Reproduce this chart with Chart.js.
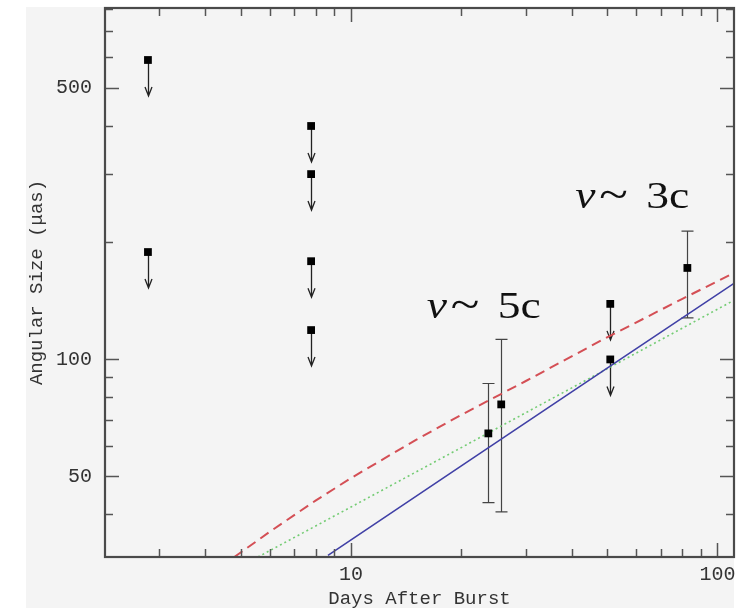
<!DOCTYPE html>
<html>
<head>
<meta charset="utf-8">
<script src="https://cdn.jsdelivr.net/npm/chart.js@4.4.0/dist/chart.umd.min.js"></script>
<style>
  html, body { margin: 0; padding: 0; background: #fff; }
  #chart { display: block; }
</style>
</head>
<body>
<canvas id="chart" width="753" height="608"></canvas>
<script>
// upper limits (square + arrow down)
const limitDays  = [2.79, 2.79, 7.78, 7.78, 7.78, 7.78, 51, 51];
const limitSizes = [590, 189, 399, 300, 179, 119, 139, 100];

// measured sizes with error bars
const detDays  = [23.7, 25.7, 82.8];
const detSizes = [64.5, 76.6, 172];
const detLow   = [42.8, 40.5, 128];
const detHigh  = [86.7, 112.6, 214];

// model curves
const redDays    = [4.8, 6, 8, 10, 15, 20, 30, 50, 80, 111];
const redSizes   = [31, 36, 43.3, 49.5, 62, 72, 88, 114, 143, 167];
const greenDays  = [5.57, 10, 20, 50, 111];
const greenSizes = [31, 41.7, 59.3, 94.6, 142];
const blueDays   = [8.65, 20, 54.3, 111];
const blueSizes  = [31.3, 53.2, 100, 157];

// axis ticks
const xMajor = [10, 100];
const xMinor = [3, 4, 5, 6, 7, 8, 9, 20, 30, 40, 50, 60, 70, 80, 90];
const yMajor = [50, 100, 500];
const yMinor = [40, 60, 70, 80, 90, 200, 300, 400, 600, 700, 800];

// speed notes
const noteText  = ['5c', '3c'];
const noteDays  = [16.1, 40.9];
const noteSizes = [128, 246];

const pts = (xs, ys) => xs.map((x, i) => ({ x: x, y: ys[i] }));

const marks = {
  id: 'marks',
  beforeDraw(chart) {
    const ctx = chart.ctx;
    ctx.save();
    ctx.fillStyle = '#ffffff';
    ctx.fillRect(0, 0, chart.width, chart.height);
    ctx.fillStyle = '#f4f4f4';
    ctx.fillRect(26, 7, 708, 601);
    ctx.restore();
  },
  beforeDatasetsDraw(chart) {
    const { ctx, scales: { x, y } } = chart;
    ctx.save();
    // error bars
    ctx.strokeStyle = '#444';
    ctx.lineWidth = 1.2;
    detDays.forEach((d, i) => {
      const px = Math.round(x.getPixelForValue(d)) + 0.5;
      const top = y.getPixelForValue(detHigh[i]);
      const bot = y.getPixelForValue(detLow[i]);
      ctx.beginPath();
      ctx.moveTo(px, top); ctx.lineTo(px, bot);
      ctx.moveTo(px - 6, top); ctx.lineTo(px + 6, top);
      ctx.moveTo(px - 6, bot); ctx.lineTo(px + 6, bot);
      ctx.stroke();
    });
    // arrows for limits
    ctx.strokeStyle = '#222';
    ctx.lineWidth = 1.3;
    limitDays.forEach((d, i) => {
      const px = Math.round(x.getPixelForValue(d)) + 0.5;
      const py = y.getPixelForValue(limitSizes[i]);
      const tip = py + 36;
      ctx.beginPath();
      ctx.moveTo(px, py); ctx.lineTo(px, tip);
      ctx.moveTo(px - 3.5, tip - 9); ctx.lineTo(px, tip); ctx.lineTo(px + 3.5, tip - 9);
      ctx.stroke();
    });
    ctx.restore();
  },
  afterDatasetsDraw(chart) {
    const { ctx, chartArea: a, scales: { x, y } } = chart;
    ctx.save();
    ctx.strokeStyle = '#555';
    ctx.lineWidth = 1.5;
    ctx.beginPath();
    const tick = (vals, len) => {
      vals.forEach(v => {
        const px = Math.round(x.getPixelForValue(v)) + 0.5;
        ctx.moveTo(px, a.bottom); ctx.lineTo(px, a.bottom - len);
        ctx.moveTo(px, a.top); ctx.lineTo(px, a.top + len);
      });
    };
    const ytick = (vals, len) => {
      vals.forEach(v => {
        const py = Math.round(y.getPixelForValue(v)) + 0.5;
        ctx.moveTo(a.left, py); ctx.lineTo(a.left + len, py);
        ctx.moveTo(a.right, py); ctx.lineTo(a.right - len, py);
      });
    };
    tick(xMajor, 14); tick(xMinor, 8);
    ytick(yMajor, 14); ytick(yMinor, 8);
    ctx.stroke();
    // frame
    ctx.strokeStyle = '#4a4a4a';
    ctx.lineWidth = 2.2;
    ctx.strokeRect(a.left, a.top, a.right - a.left, a.bottom - a.top);
    ctx.restore();
  },
  afterDraw(chart) {
    const { ctx, scales: { x, y } } = chart;
    ctx.fillStyle = '#111';
    ctx.textBaseline = 'alphabetic';
    noteText.forEach((t, i) => {
      const px = x.getPixelForValue(noteDays[i]);
      const py = y.getPixelForValue(noteSizes[i]);
      ctx.save();
      ctx.translate(px, py);
      ctx.scale(1.2, 1);
      ctx.font = 'italic 38px "Liberation Serif"';
      ctx.fillText('v', 0, 0);
      ctx.font = '44px "Liberation Serif"';
      ctx.fillText('~', 24 / 1.2, 1);
      ctx.font = '38px "Liberation Serif"';
      ctx.fillText(t, 71 / 1.2, 0);
      ctx.restore();
    });
  }
};

const ctx = document.getElementById('chart').getContext('2d');

// drop the label-overflow padding so the plot box fills the frame
const noPad = s => { s.paddingTop = 0; s.paddingBottom = 0; s.paddingLeft = 0; s.paddingRight = 0; };

new Chart(ctx, {
  type: 'scatter',
  data: {
    datasets: [
      {
        label: 'limits',
        data: pts(limitDays, limitSizes),
        pointStyle: 'rect',
        pointRadius: 5.5,
        backgroundColor: '#000',
        borderColor: '#000',
        borderWidth: 0
      },
      {
        label: 'detections',
        data: pts(detDays, detSizes),
        pointStyle: 'rect',
        pointRadius: 5.5,
        backgroundColor: '#000',
        borderColor: '#000',
        borderWidth: 0
      },
      {
        label: 'blue',
        type: 'line',
        data: pts(blueDays, blueSizes),
        borderColor: '#4040a6',
        borderWidth: 1.6,
        pointRadius: 0,
        fill: false
      },
      {
        label: 'green',
        type: 'line',
        data: pts(greenDays, greenSizes),
        borderColor: '#74cc74',
        borderWidth: 1.6,
        borderDash: [2, 3],
        pointRadius: 0,
        fill: false
      },
      {
        label: 'red',
        type: 'line',
        data: pts(redDays, redSizes),
        borderColor: '#d44f55',
        borderWidth: 2,
        borderDash: [10, 6],
        pointRadius: 0,
        fill: false
      }
    ]
  },
  options: {
    responsive: false,
    animation: false,
    devicePixelRatio: 1,
    layout: { padding: { top: 8, right: 19, left: 0, bottom: 0 } },
    plugins: { legend: { display: false }, tooltip: { enabled: false } },
    scales: {
      x: {
        type: 'logarithmic',
        min: 2.13,
        max: 111,
        bounds: 'data',
        grid: { display: false, drawTicks: false },
        border: { display: false },
        afterBuildTicks: s => { s.ticks = xMajor.map(v => ({ value: v })); },
        afterFit: s => { s.height = 51; noPad(s); },
        ticks: {
          autoSkip: false,
          maxRotation: 0,
          minRotation: 0,
          padding: 6,
          color: '#333',
          font: { family: '"Liberation Mono"', size: 20 },
          callback: v => String(v)
        },
        title: {
          display: true,
          text: 'Days After Burst',
          color: '#333',
          padding: { top: 0, bottom: 0 },
          font: { family: '"Liberation Mono"', size: 19, lineHeight: 1 }
        }
      },
      y: {
        type: 'logarithmic',
        min: 31,
        max: 803,
        bounds: 'data',
        grid: { display: false, drawTicks: false },
        border: { display: false },
        afterBuildTicks: s => { s.ticks = yMajor.map(v => ({ value: v })); },
        afterFit: s => { s.width = 105; noPad(s); },
        ticks: {
          autoSkip: false,
          padding: 13,
          color: '#333',
          font: { family: '"Liberation Mono"', size: 20 },
          callback: v => String(v)
        },
        title: {
          display: true,
          text: 'Angular Size (\u03bcas)',
          color: '#333',
          padding: { top: 26, bottom: 0 },
          font: { family: '"Liberation Mono"', size: 19, lineHeight: 1.2 }
        }
      }
    }
  },
  plugins: [marks]
});
</script>
</body>
</html>
